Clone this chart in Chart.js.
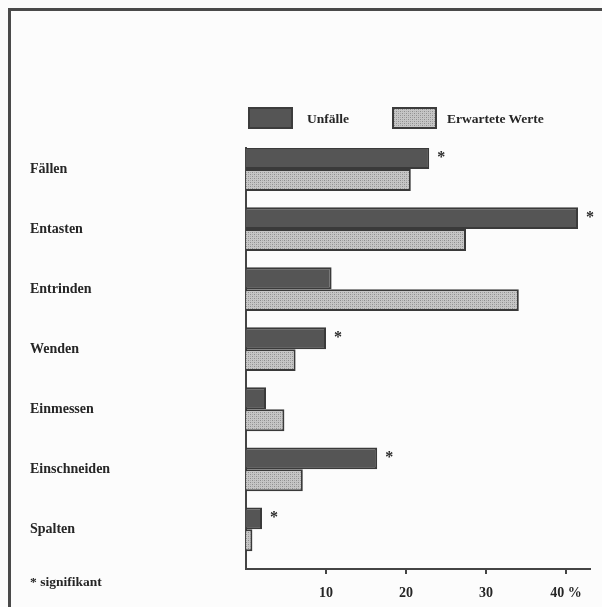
<!DOCTYPE html>
<html><head><meta charset="utf-8">
<script src="https://cdn.jsdelivr.net/npm/chart.js@4/dist/chart.umd.min.js"></script>
<style>
html,body{margin:0;padding:0;background:#fcfcfc;overflow:hidden;width:602px;height:607px;position:relative;}
#frame{position:absolute;left:8px;top:8px;width:700px;height:700px;border:3px solid #4a4a4a;}
#c{position:absolute;left:0;top:0;}
.txt{position:absolute;font-family:"Liberation Serif","Times New Roman",serif;font-weight:bold;font-size:13.5px;color:#262626;white-space:nowrap;line-height:1;}
.sw{position:absolute;width:41px;height:18px;border:2px solid #3c3c3c;}
</style></head><body>
<div id="frame"></div>
<canvas id="c" width="602" height="607"></canvas>
<div id="legend"></div>
<div class="txt" id="note" style="left:30px;top:575px;">* signifikant</div>
<script>
const categories = ['Fällen','Entasten','Entrinden','Wenden','Einmessen','Einschneiden','Spalten'];
const seriesNames = ['Unfälle','Erwartete Werte'];
const unfaelle = [22.9, 41.5, 10.7, 10.0, 2.5, 16.4, 2.0];
const erwartet = [20.6, 27.5, 34.1, 6.2, 4.8, 7.1, 0.8];
const signifikant = [true, true, false, true, false, true, true];
const xTicks = [10, 20, 30, 40];

// stipple pattern for expected values
const pc = document.createElement('canvas');
pc.width = 4; pc.height = 4;
const px = pc.getContext('2d');
px.fillStyle = '#c6c6c6'; px.fillRect(0,0,4,4);
px.fillStyle = '#8e8e8e'; px.fillRect(0,0,1,1); px.fillRect(2,2,1,1);
px.fillStyle = '#a8a8a8'; px.fillRect(2,0,1,1); px.fillRect(0,2,1,1);
const stipple = px.createPattern(pc, 'repeat');
const darkFill = '#555555';
const edge = '#3a3a3a';

// HTML legend
const legend = document.getElementById('legend');
const legPos = [{sw:248, tx:307}, {sw:392, tx:447}];
seriesNames.forEach((n, i) => {
  const s = document.createElement('div');
  s.className = 'sw';
  s.style.left = legPos[i].sw + 'px'; s.style.top = '107px';
  if (i === 0) s.style.background = darkFill;
  else s.style.background = 'url(' + pc.toDataURL() + ')';
  legend.appendChild(s);
  const t = document.createElement('div');
  t.className = 'txt';
  t.style.left = legPos[i].tx + 'px'; t.style.top = '112px';
  t.textContent = n;
  legend.appendChild(t);
});

const font = {family: '"Liberation Serif","Times New Roman",serif', weight: 'bold', size: 14};

const starPlugin = {
  id: 'stars',
  afterDatasetsDraw(chart) {
    const meta = chart.getDatasetMeta(0);
    const ctx = chart.ctx;
    ctx.save();
    ctx.fillStyle = '#2b2b2b';
    ctx.font = 'bold 16px "Liberation Serif", serif';
    ctx.textAlign = 'center';
    ctx.textBaseline = 'alphabetic';
    meta.data.forEach((el, i) => {
      if (!signifikant[i]) return;
      const top = el.y - el.height / 2;
      ctx.fillText('*', el.x + 12, top + 15);
    });
    ctx.restore();
  }
};

new Chart(document.getElementById('c'), {
  type: 'bar',
  data: {
    datasets: [
      {label: seriesNames[0], data: unfaelle.map((v, i) => ({x: v, y: i})),
       backgroundColor: darkFill, borderColor: edge, borderWidth: 2},
      {label: seriesNames[1], data: erwartet.map((v, i) => ({x: v, y: i})),
       backgroundColor: stipple, borderColor: edge, borderWidth: 2}
    ]
  },
  options: {
    indexAxis: 'y',
    responsive: false,
    animation: false,
    events: [],
    categoryPercentage: 0.73,
    barPercentage: 1.0,
    layout: {padding: {left: 30, top: 148, right: 12, bottom: 0}},
    plugins: {legend: {display: false}, tooltip: {enabled: false}},
    scales: {
      x: {
        type: 'linear', position: 'bottom', min: 0, max: 43,
        afterBuildTicks: s => { s.ticks = xTicks.map(v => ({value: v})); },
        afterFit: s => { s.height = 38; },
        ticks: {callback: v => v === 40 ? '40 %' : String(v), font: font, color: '#262626', padding: 11, maxRotation: 0},
        grid: {drawOnChartArea: false, drawTicks: true, tickLength: 5, color: '#444', lineWidth: 2},
        border: {display: true, color: '#444', width: 2}
      },
      y: {
        type: 'linear', position: 'left', reverse: true, min: -0.35, max: 6.66,
        offset: false,
        afterBuildTicks: s => { s.ticks = categories.map((_, i) => ({value: i})); },
        afterFit: s => { s.width = 216; },
        ticks: {callback: v => categories[v], crossAlign: 'far', font: font, color: '#262626'},
        grid: {display: false, offset: false},
        border: {display: true, color: '#444', width: 2}
      }
    }
  },
  plugins: [starPlugin]
});
</script>
</body></html>
